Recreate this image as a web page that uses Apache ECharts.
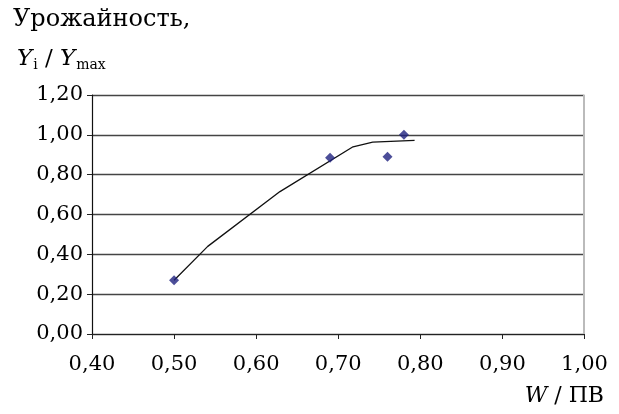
<!DOCTYPE html>
<html><head><meta charset="utf-8">
<script src="https://cdn.jsdelivr.net/npm/echarts@6/dist/echarts.min.js"></script>
<style>html,body{margin:0;padding:0;background:#fff}#c{width:619px;height:414px}</style>
</head><body><div id="c"></div>
<script>
const pointsX = [0.50, 0.69, 0.76, 0.78];
const pointsY = [0.27, 0.885, 0.89, 1.00];
const lineX = [0.50, 0.541, 0.629, 0.718, 0.742, 0.793];
const lineY = [0.27, 0.44, 0.715, 0.94, 0.963, 0.972];
const yTicks = [0, 0.2, 0.4, 0.6, 0.8, 1.0, 1.2];
const xTicks = [0.4, 0.5, 0.6, 0.7, 0.8, 0.9, 1.0];

const FONT = '"DejaVu Serif", serif';
const fmt = v => v.toFixed(2).replace('.', ',');
const chart = echarts.init(document.getElementById('c'));
chart.setOption({
  animation: false,
  backgroundColor: '#fff',
  graphic: [
    {type: 'text', left: 13, top: 8, style: {text: 'Урожайность,', font: '24px ' + FONT, fill: '#000'}},
    {type: 'text', left: 17, top: 48, style: {
      text: '{i|Y}{s|i}{n| / }{i|Y}{s|max}', fill: '#000',
      rich: {
        i: {fontFamily: FONT, fontStyle: 'italic', fontSize: 23, fill: '#000'},
        n: {fontFamily: FONT, fontSize: 23, fill: '#000'},
        s: {fontFamily: FONT, fontSize: 14, fill: '#000', verticalAlign: 'bottom', padding: [11, 0, 0, 1]}
      }}},
    {type: 'text', right: 15, top: 385, style: {
      text: '{i|W}{n| / ПВ}', fill: '#000',
      rich: {
        i: {fontFamily: FONT, fontStyle: 'italic', fontSize: 22, fill: '#000'},
        n: {fontFamily: FONT, fontSize: 22, fill: '#000'}
      }}},
    {type: 'rect', shape: {x: 583, y: 95, width: 2, height: 239}, style: {fill: '#bbb'}, z: 5}
  ],
  grid: {left: 92, right: 34.5, top: 95, bottom: 80},
  xAxis: {
    type: 'value', min: 0.4, max: 1.0, interval: 0.1,
    axisLine: {lineStyle: {color: '#222', width: 1.2}},
    axisTick: {show: true, length: 5, lineStyle: {color: '#222'}},
    axisLabel: {margin: 20, fontFamily: FONT, fontSize: 21, color: '#000', formatter: fmt},
    splitLine: {show: false}
  },
  yAxis: {
    type: 'value', min: 0, max: 1.2, interval: 0.2,
    axisLine: {show: true, lineStyle: {color: '#111', width: 1.2}},
    axisTick: {show: true, length: 5, lineStyle: {color: '#222'}},
    axisLabel: {margin: 9, fontFamily: FONT, fontSize: 21, color: '#000', formatter: fmt},
    splitLine: {show: true, lineStyle: {color: '#444', width: 1.3}}
  },
  series: [
    {type: 'line', data: lineX.map((x, i) => [x, lineY[i]]), symbol: 'none',
     lineStyle: {color: '#111', width: 1.3}, z: 3},
    {type: 'scatter', data: pointsX.map((x, i) => [x, pointsY[i]]), symbol: 'diamond',
     symbolSize: 10, itemStyle: {color: '#1f2280'}, z: 4}
  ]
});
</script></body></html>
